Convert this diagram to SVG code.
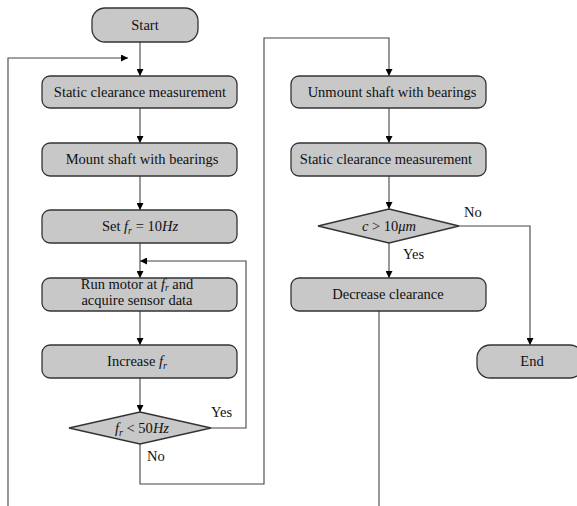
<svg xmlns="http://www.w3.org/2000/svg" width="577" height="506" viewBox="0 0 577 506">
<defs>
<marker id="ah" viewBox="0 0 10 10" refX="10" refY="5" markerWidth="7" markerHeight="7" markerUnits="userSpaceOnUse" orient="auto">
<path d="M0,0 L10,5 L0,10 z" fill="#000"/>
</marker>
<style>
.box{fill:#c8c8c8;stroke:#333;stroke-width:1.3}
.t{font-family:"Liberation Serif","Times New Roman",serif;font-size:14.5px;fill:#111;text-anchor:middle}
.lbl{font-family:"Liberation Serif","Times New Roman",serif;font-size:14.5px;fill:#111}
.m{font-style:italic}
.c{fill:none;stroke:#444;stroke-width:1.1}
.a{marker-end:url(#ah)}
</style>
</defs>
<rect width="577" height="506" fill="#fff"/>
<g id="connectors">
<path class="c a" d="M140,42 V76"/>
<path class="c a" d="M8,506 V58 H128"/>
<path class="c a" d="M140,108 V143"/>
<path class="c a" d="M140,176 V210"/>
<path class="c a" d="M140,243 V278"/>
<path class="c a" d="M211,428 H246 V261 H140"/>
<path class="c a" d="M140,311 V345"/>
<path class="c a" d="M140,378 V412"/>
<path class="c a" d="M140,444 V484 H264 V38 H389 V76"/>
<path class="c a" d="M389,108 V143"/>
<path class="c a" d="M389,176 V209"/>
<path class="c a" d="M389,243 V278"/>
<path class="c a" d="M459,226 H530 V345"/>
<path class="c" d="M379,311 V506"/>
</g>
<g id="start"><rect class="box" x="92" y="8" width="106" height="34" rx="13"/><text class="t" x="145" y="30">Start</text></g>
<g id="static1"><rect class="box" x="42" y="76" width="195" height="32" rx="8"/><text class="t" x="140" y="97">Static clearance measurement</text></g>
<g id="mount"><rect class="box" x="42" y="143" width="195" height="33" rx="8"/><text class="t" x="142" y="164">Mount shaft with bearings</text></g>
<g id="setfr"><rect class="box" x="42" y="210" width="195" height="33" rx="8"/><text class="t" x="140" y="231">Set <tspan class="m">f</tspan><tspan class="m" font-size="10" dy="3">r</tspan><tspan dy="-3"> = 10</tspan><tspan class="m">Hz</tspan></text></g>
<g id="run"><rect class="box" x="42" y="278" width="195" height="33" rx="8"/><text class="t" x="137" y="289" font-size="13.5">Run motor at <tspan class="m">f</tspan><tspan class="m" font-size="9.5" dy="2">r</tspan><tspan dy="-2"> and</tspan></text><text class="t" x="137" y="305" font-size="13.5">acquire sensor data</text></g>
<g id="increase"><rect class="box" x="42" y="345" width="195" height="33" rx="8"/><text class="t" x="137" y="366">Increase <tspan class="m">f</tspan><tspan class="m" font-size="10" dy="3">r</tspan></text></g>
<g id="cond1"><path class="box" d="M140,412 L211,428 L140,444 L69,428 z"/><text class="t" x="142" y="433"><tspan class="m">f</tspan><tspan class="m" font-size="10" dy="3">r</tspan><tspan dy="-3"> &lt; 50</tspan><tspan class="m">Hz</tspan></text></g>
<text class="lbl" x="211" y="417">Yes</text>
<text class="lbl" x="147" y="461">No</text>
<g id="unmount"><rect class="box" x="291" y="76" width="195" height="32" rx="8"/><text class="t" x="392" y="97">Unmount shaft with bearings</text></g>
<g id="static2"><rect class="box" x="291" y="143" width="195" height="33" rx="8"/><text class="t" x="386" y="164">Static clearance measurement</text></g>
<g id="cond2"><path class="box" d="M389,209 L459,226 L389,243 L318,226 z"/><text class="t" x="389" y="231"><tspan class="m">c</tspan> &gt; 10<tspan class="m">μm</tspan></text></g>
<text class="lbl" x="464" y="217">No</text>
<text class="lbl" x="403" y="259">Yes</text>
<g id="decrease"><rect class="box" x="291" y="278" width="195" height="33" rx="8"/><text class="t" x="388" y="299">Decrease clearance</text></g>
<g id="end"><rect class="box" x="477" y="345" width="106" height="33" rx="13"/><text class="t" x="532" y="366">End</text></g>
</svg>
